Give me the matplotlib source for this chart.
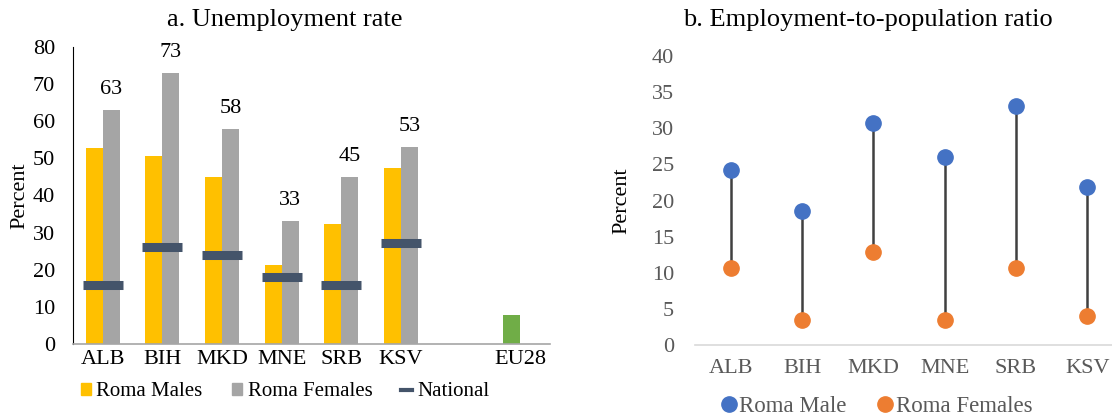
import matplotlib.pyplot as plt
from matplotlib.lines import Line2D
from matplotlib.patches import Patch
import numpy as np

plt.rcParams['font.family'] = ['Liberation Serif', 'DejaVu Serif']

# Data - panel a
countries_a = ['ALB', 'BIH', 'MKD', 'MNE', 'SRB', 'KSV', '', 'EU28']
roma_males = [52.8, 50.6, 45.0, 21.2, 32.3, 47.4]
roma_females = [63, 73, 58, 33, 45, 53]
national = [16.0, 26.0, 23.9, 18.0, 16.0, 27.1]
eu28 = 7.8

# Data - panel b
countries_b = ['ALB', 'BIH', 'MKD', 'MNE', 'SRB', 'KSV']
male_emp = [24.2, 18.6, 30.7, 26.0, 33.1, 21.9]
female_emp = [10.7, 3.45, 12.9, 3.45, 10.6, 4.05]

yellow, lgrey, navy, green = '#FFC000', '#A5A5A5', '#44546A', '#70AD47'
blue, orange = '#4472C4', '#ED7D31'

W, H = 1112, 420
fig = plt.figure(figsize=(W / 100, H / 100), dpi=100)

# ---------- panel a ----------
ax1 = fig.add_axes([73 / W, 1 - 344 / H, 477 / W, 297 / H])
x = np.arange(len(roma_males))
bw = 0.285
ax1.bar(x - bw / 2, roma_males, bw, color=yellow)
ax1.bar(x + bw / 2, roma_females, bw, color=lgrey)
ax1.bar(7 - bw / 2, eu28, bw, color=green)
ax1.plot(x, national, linestyle='none', marker='_', markersize=29,
         markeredgewidth=6.5, color=navy)
for xi, v in zip(x, roma_females):
    ax1.annotate(f'{v:.0f}', (xi + bw / 2, v), xytext=(0, 8), textcoords='offset points',
                 ha='center', va='bottom', fontsize=16)

ax1.set_xlim(-0.5, 7.5)
ax1.set_ylim(0, 80)
ax1.set_yticks(range(0, 81, 10))
ax1.set_xticks(range(8))
ax1.set_xticklabels(countries_a)
ax1.tick_params(axis='y', length=0, pad=13, labelsize=16)
ax1.tick_params(axis='x', length=0, pad=4, labelsize=16)
for s in ['top', 'right']:
    ax1.spines[s].set_visible(False)
ax1.spines['left'].set_color('black')
ax1.spines['bottom'].set_color('#A6A6A6')
ax1.spines['bottom'].set_linewidth(1.2)
ax1.set_ylabel('Percent', fontsize=16)
ax1.yaxis.set_label_coords(-(73 - 29) / 477, 0.5)

handles_a = [Patch(color=yellow), Patch(color=lgrey), Line2D([], [], color=navy, lw=3)]
fig.legend(handles_a, ['Roma Males', 'Roma Females', 'National'], loc='center',
           bbox_to_anchor=(285 / W, 1 - 392 / H), ncol=3, frameon=False, fontsize=15,
           handlelength=0.5, handleheight=0.45, handletextpad=0.25, columnspacing=1.4)

fig.text(285 / W, 1 - 20 / H, 'a. Unemployment rate', ha='center', va='center', fontsize=19)

# ---------- panel b ----------
grey = '#595959'
ax2 = fig.add_axes([695 / W, 1 - 345 / H, 428 / W, 289 / H])
xb = np.arange(len(countries_b))
ax2.vlines(xb, female_emp, male_emp, color='#404040', linewidth=1.8, zorder=1)
ax2.plot(xb, male_emp, 'o', color=blue, markersize=11, linestyle='none',
         label='Roma Male', zorder=2)
ax2.plot(xb, female_emp, 'o', color=orange, markersize=11, linestyle='none',
         label='Roma Females', zorder=2)
ax2.set_xlim(-0.5, 5.5)
ax2.set_ylim(0, 40)
ax2.set_yticks(range(0, 41, 5))
ax2.set_xticks(xb)
ax2.set_xticklabels(countries_b)
ax2.tick_params(axis='y', length=0, pad=15, labelsize=16, labelcolor=grey)
ax2.tick_params(axis='x', length=0, pad=10, labelsize=16, labelcolor=grey)
for s in ['top', 'right', 'left']:
    ax2.spines[s].set_visible(False)
ax2.spines['bottom'].set_color('#D9D9D9')
ax2.spines['bottom'].set_linewidth(1.2)
ax2.set_ylabel('Percent', fontsize=16)
ax2.yaxis.set_label_coords(-(695 - 631) / 428, 0.5)

leg2 = fig.legend(*ax2.get_legend_handles_labels(), loc='center',
                  bbox_to_anchor=(877 / W, 1 - 406 / H), ncol=2, frameon=False,
                  fontsize=16.5, handlelength=0.6, handletextpad=0.15, columnspacing=1.4)
for t in leg2.get_texts():
    t.set_color(grey)

fig.text(868 / W, 1 - 20 / H, 'b. Employment-to-population ratio', ha='center',
         va='center', fontsize=19)

plt.savefig('out.png', dpi=100)
